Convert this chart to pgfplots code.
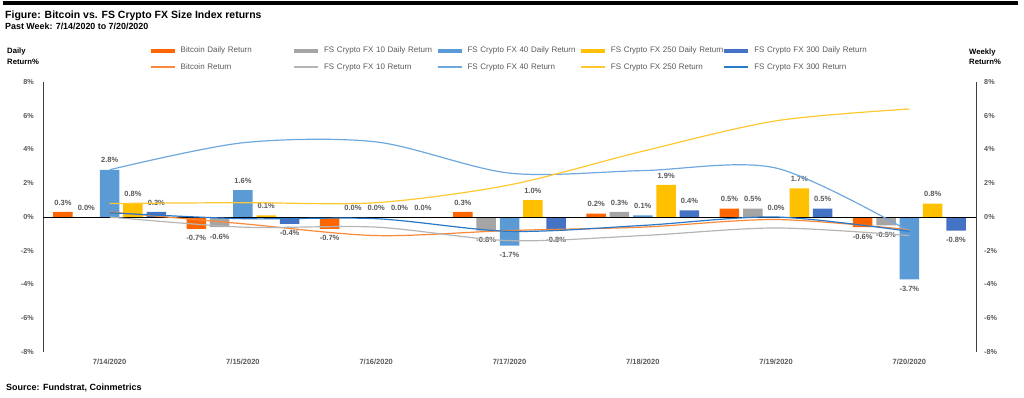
\documentclass[border=0pt]{standalone}
\usepackage{fontspec}
\setmainfont{Liberation Sans}
\usepackage{pgfplots}
\pgfplotsset{compat=1.18}
\definecolor{btcbar}{HTML}{FF6600}
\definecolor{fsTbar}{HTML}{A5A5A5}
\definecolor{fsFbar}{HTML}{5B9BD5}
\definecolor{fsTFbar}{HTML}{FFC000}
\definecolor{fsTHbar}{HTML}{4472C4}
\definecolor{btcline}{HTML}{F98A3A}
\definecolor{fsTline}{HTML}{B5B5B5}
\definecolor{fsFline}{HTML}{6FA8DC}
\definecolor{fsTFline}{HTML}{FFC830}
\definecolor{fsTHline}{HTML}{2A78C8}
\definecolor{labelgray}{HTML}{595959}
\definecolor{axisgray}{HTML}{404040}
\newcommand{\fs}[1]{\fontsize{#1}{#1}\selectfont}
\begin{document}
\begin{tikzpicture}[x=1pt,y=1pt]
\useasboundingbox (0,0) rectangle (1024,397);
\fill[black] (3,392.3) rectangle (1018,395.8);
\node[anchor=base west, inner sep=0, font=\bfseries\fs{10.5}] at (5,378.7) {Figure: Bitcoin vs. FS Crypto FX Size Index returns};
\node[anchor=base west, inner sep=0, font=\bfseries\fs{8.9}] at (5,367.7) {Past Week: 7/14/2020 to 7/20/2020};
\node[anchor=base west, inner sep=0, font=\bfseries\fs{9}] at (6,7) {Source: Fundstrat, Coinmetrics};
\node[anchor=north west, inner sep=0, align=left, font=\bfseries\fontsize{7.7}{10.5}\selectfont] at (7,349) {Daily\\Return\%};
\node[anchor=north west, inner sep=0, align=left, font=\bfseries\fontsize{7.7}{9.5}\selectfont] at (969,348) {Weekly\\Return\%};

\begin{axis}[
  at={(43pt,45pt)}, anchor=south west, scale only axis,
  width=933pt, height=270pt,
  xmin=-0.5, xmax=6.5, ymin=-8, ymax=8,
  ybar=3.83pt, bar width=19.5pt,
  axis x line*=bottom, axis y line*=left,
  x axis line style={draw=none},
  y axis line style={draw=axisgray, line width=0.8pt, -},
  xtick={0,1,2,3,4,5,6},
  xticklabels={7/14/2020,7/15/2020,7/16/2020,7/17/2020,7/18/2020,7/19/2020,7/20/2020},
  ytick={-8,-6,-4,-2,0,2,4,6,8},
  yticklabels={-8\%,-6\%,-4\%,-2\%,0\%,2\%,4\%,6\%,8\%},
  major tick length=0pt,
  xticklabel style={font=\bfseries\fs{7.5}, text=labelgray, yshift=-4pt},
  yticklabel style={font=\bfseries\fs{7.2}, text=labelgray, xshift=-5.7pt},
  point meta=y,
  nodes near coords={\pgfmathprintnumber[fixed,fixed zerofill,precision=1,assume math mode=true]{\pgfplotspointmeta}\%},
  nodes near coords align={vertical},
  every node near coord/.append style={font=\bfseries\fs{7.5}, text=labelgray, inner xsep=0pt, inner ysep=6.5pt},
  clip=false,
]
\addplot[fill=btcbar, draw=none] coordinates {(0,0.3) (1,-0.7) (2,-0.7) (3,0.3) (4,0.2) (5,0.5) (6,-0.6)};
\addplot[fill=fsTbar, draw=none] coordinates {(0,0.0) (1,-0.6) (2,0.0) (3,-0.8) (4,0.3) (5,0.5) (6,-0.5)};
\addplot[fill=fsFbar, draw=none] coordinates {(0,2.8) (1,1.6) (2,0.0) (3,-1.7) (4,0.1) (5,0.0) (6,-3.7)};
\addplot[fill=fsTFbar, draw=none] coordinates {(0,0.8) (1,0.1) (2,0.0) (3,1.0) (4,1.9) (5,1.7) (6,0.8)};
\addplot[fill=fsTHbar, draw=none] coordinates {(0,0.3) (1,-0.4) (2,0.0) (3,-0.8) (4,0.4) (5,0.5) (6,-0.8)};
\draw[black, line width=0.8pt] (rel axis cs:0,0.5) -- (rel axis cs:1,0.5);
\end{axis}

\begin{axis}[
  at={(43pt,45pt)}, anchor=south west, scale only axis,
  width=933pt, height=270pt,
  xmin=-0.5, xmax=6.5, ymin=-8, ymax=8,
  axis x line=none, axis y line*=right,
  y axis line style={draw=axisgray, line width=0.8pt, -},
  ytick={-8,-6,-4,-2,0,2,4,6,8},
  yticklabels={-8\%,-6\%,-4\%,-2\%,0\%,2\%,4\%,6\%,8\%},
  major tick length=0pt,
  yticklabel style={font=\bfseries\fs{7.2}, text=labelgray, xshift=4.7pt},
  clip=false,
  legend columns=5,
  legend image code/.code={\draw[#1] (0pt,0pt) -- (24pt,0pt);},
  legend style={at={(rel axis cs:0.1133,1.137)}, anchor=north west, draw=none, fill=none,
    inner sep=0pt, outer sep=0pt,
    font=\fs{8}, text=labelgray, row sep=5pt,
    /tikz/every odd column/.append style={column sep=4pt},
    /tikz/every even column/.append style={column sep=0pt},
    nodes={inner xsep=0pt, inner ysep=2pt, text width=111.4pt, align=left}},
  legend cell align=left,
]
\addlegendimage{line width=4pt, draw=btcbar}\addlegendentry{\mbox{Bitcoin Daily Return}}
\addlegendimage{line width=4pt, draw=fsTbar}\addlegendentry{\mbox{FS Crypto FX 10 Daily Return}}
\addlegendimage{line width=4pt, draw=fsFbar}\addlegendentry{\mbox{FS Crypto FX 40 Daily Return}}
\addlegendimage{line width=4pt, draw=fsTFbar}\addlegendentry{\mbox{FS Crypto FX 250 Daily Return}}
\addlegendimage{line width=4pt, draw=fsTHbar}\addlegendentry{\mbox{FS Crypto FX 300 Daily Return}}
\addlegendimage{line width=1.6pt, draw=btcline}\addlegendentry{\mbox{Bitcoin Return}}
\addlegendimage{line width=1.6pt, draw=fsTline}\addlegendentry{\mbox{FS Crypto FX 10 Return}}
\addlegendimage{line width=1.6pt, draw=fsFline}\addlegendentry{\mbox{FS Crypto FX 40 Return}}
\addlegendimage{line width=1.6pt, draw=fsTFline}\addlegendentry{\mbox{FS Crypto FX 250 Return}}
\addlegendimage{line width=1.6pt, draw=fsTHline}\addlegendentry{\mbox{FS Crypto FX 300 Return}}
\addplot[forget plot, smooth, btcline, line width=1.2pt] coordinates {(0,0.3) (1,-0.4) (2,-1.1) (3,-0.8) (4,-0.6) (5,-0.15) (6,-0.75)};
\addplot[forget plot, smooth, fsTline, line width=1.2pt] coordinates {(0,0.0) (1,-0.6) (2,-0.6) (3,-1.4) (4,-1.1) (5,-0.65) (6,-1.1)};
\addplot[forget plot, smooth, fsFline, line width=1.2pt] coordinates {(0,2.8) (1,4.4) (2,4.45) (3,2.6) (4,2.75) (5,2.9) (6,-0.85)};
\addplot[forget plot, smooth, fsTFline, line width=1.2pt] coordinates {(0,0.8) (1,0.85) (2,0.85) (3,1.9) (4,3.9) (5,5.7) (6,6.4)};
\addplot[forget plot, smooth, fsTHline, line width=1.2pt] coordinates {(0,0.25) (1,-0.1) (2,-0.1) (3,-0.85) (4,-0.5) (5,0.0) (6,-0.85)};
\end{axis}
\end{tikzpicture}
\end{document}
